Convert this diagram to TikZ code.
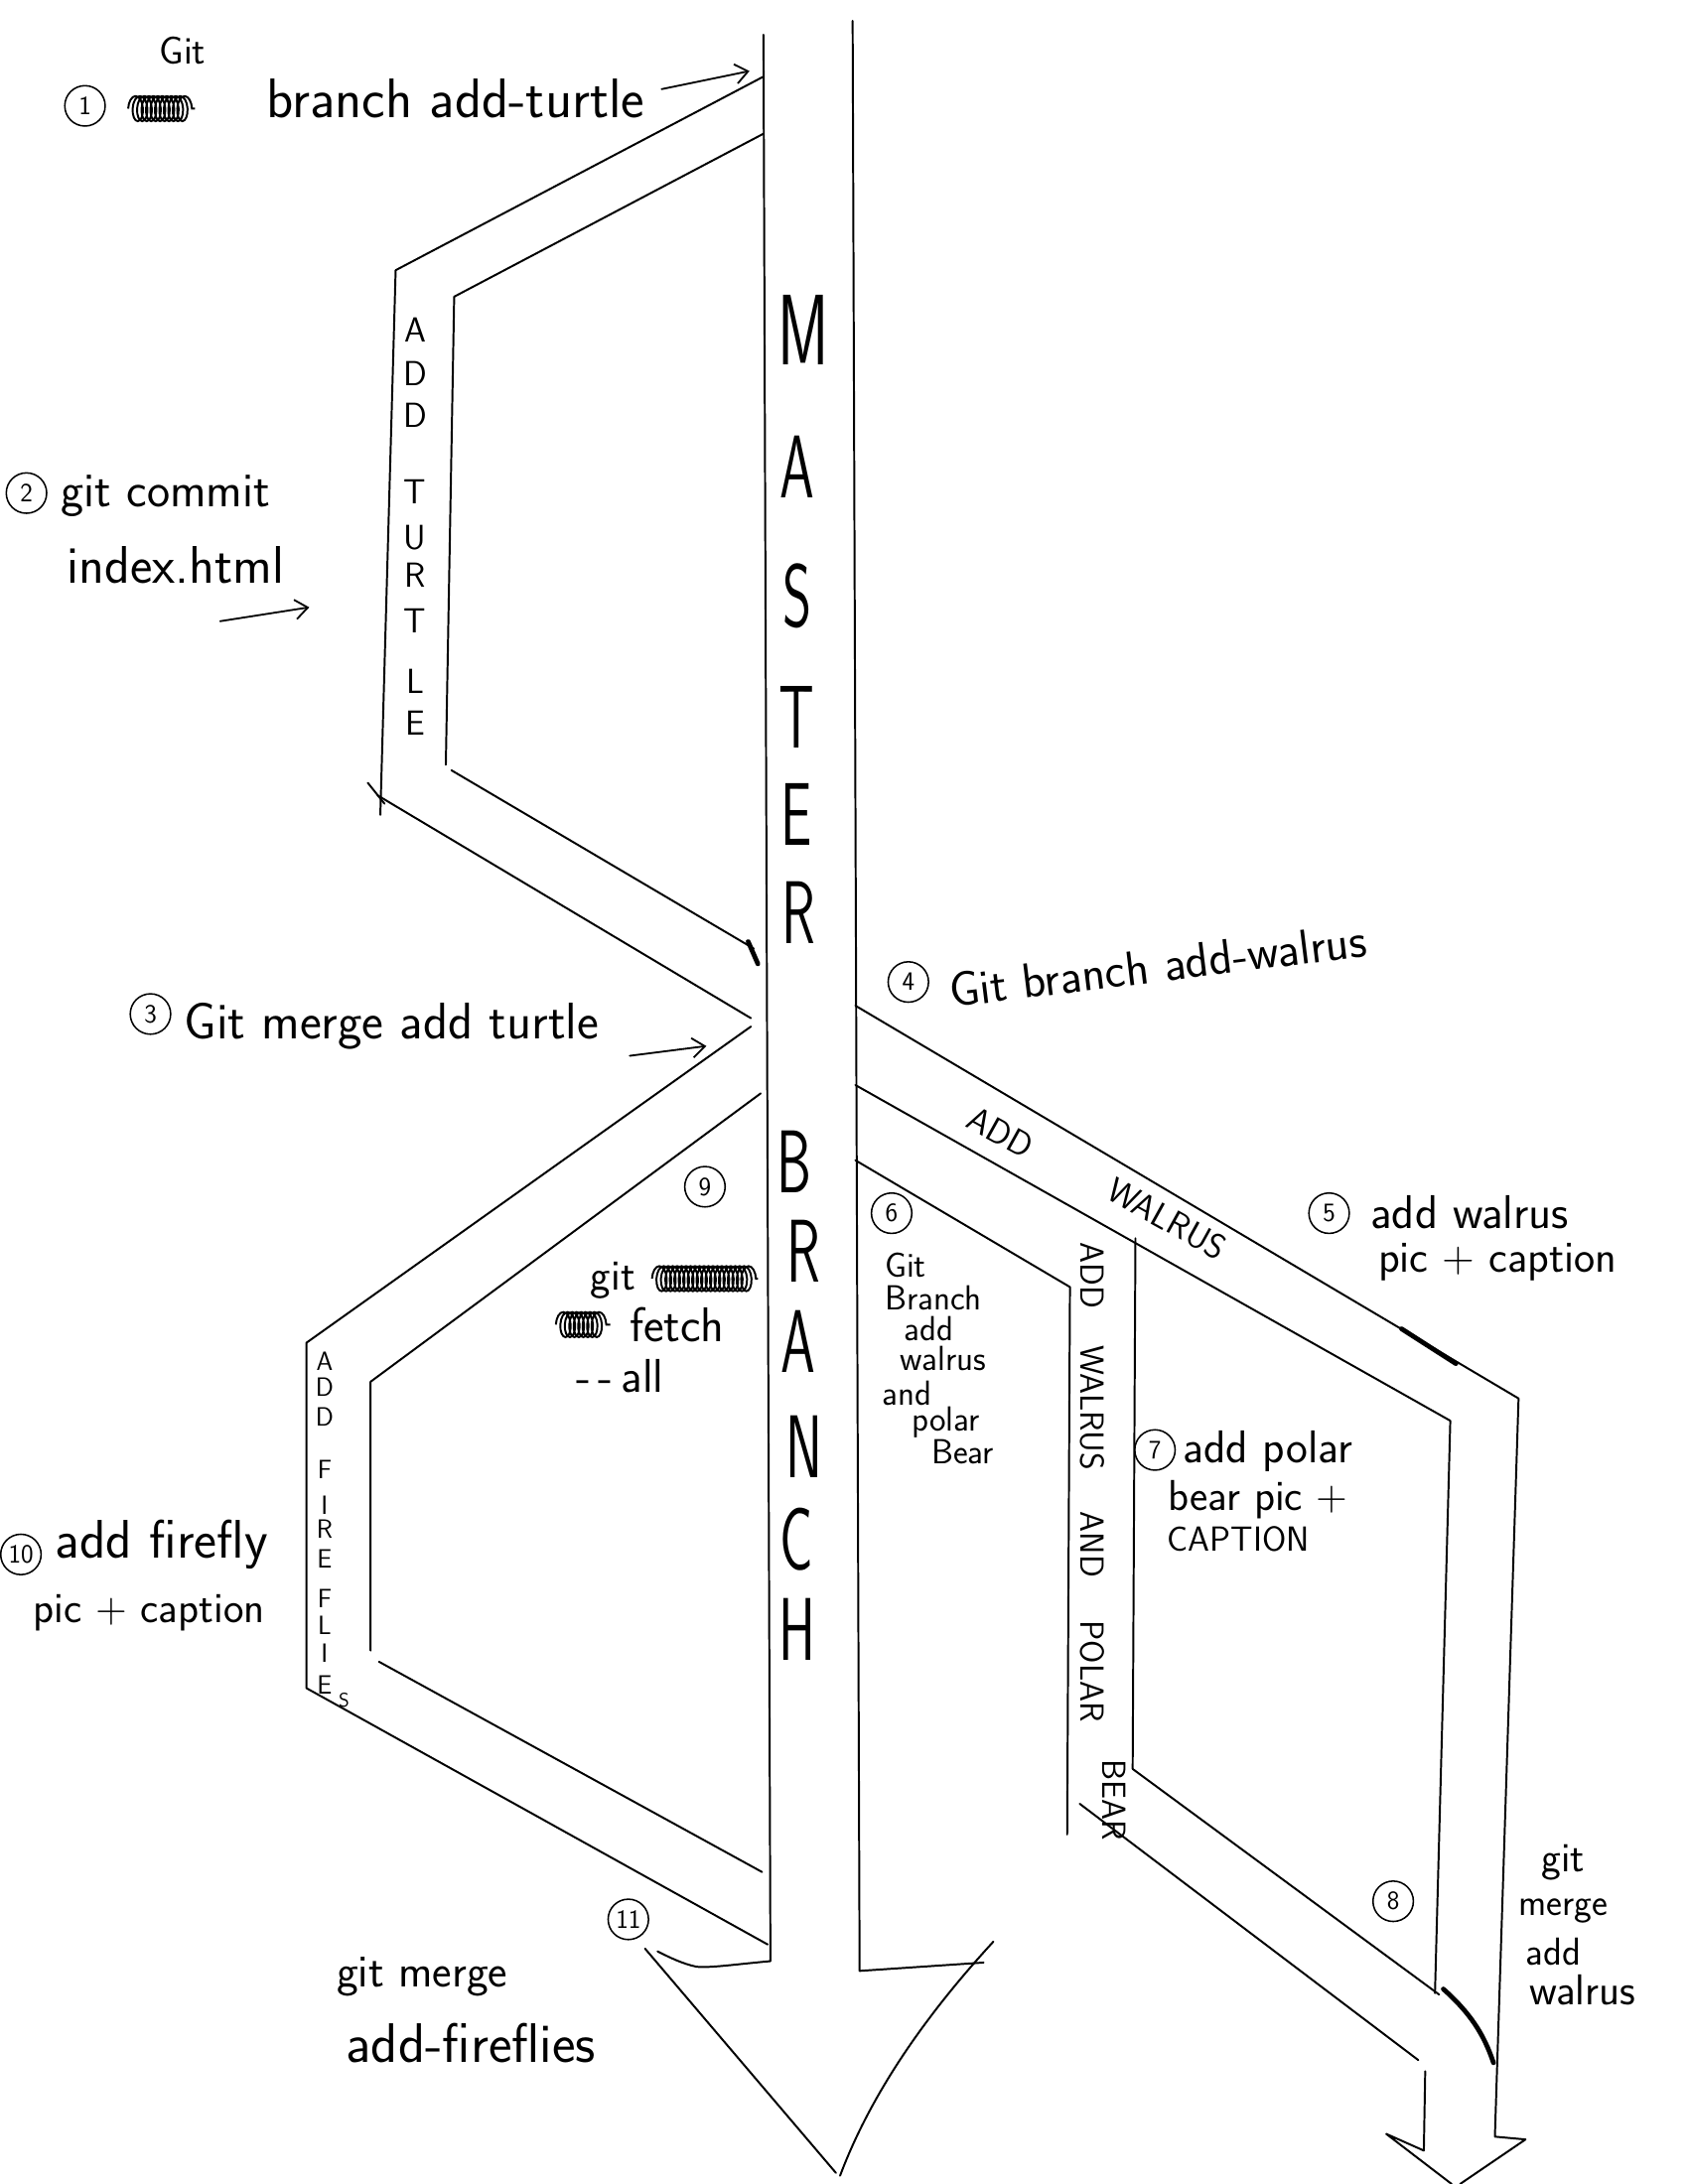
\documentclass[tikz,border=0pt]{standalone}
\usepackage{fontspec}
\usetikzlibrary{arrows.meta,decorations.pathmorphing}
\newcommand\narrowltr[1]{\scalebox{0.62}[1]{#1}}
\newcommand\fsz[1]{\sffamily\fontsize{#1}{#1}\selectfont}
\begin{document}
\begin{tikzpicture}[x=1pt,y=-1pt,
  br/.style={line width=1.4pt,line cap=round,line join=round},
  heavy/.style={line width=3.4pt,line cap=round},
  hw/.style={font=\fsz{36},inner sep=0pt},
  hws/.style={font=\fsz{26},inner sep=0pt},
  num/.style={circle,draw,line width=1.1pt,inner sep=0pt,minimum size=29pt,font=\fsz{19}},
  big/.style={font=\fsz{64},inner sep=0pt},
  capl/.style={font=\fsz{25},inner sep=0pt},
  caps/.style={font=\fsz{19},inner sep=0pt},
  arr/.style={line width=1.3pt,line cap=round,-{Straight Barb[length=9pt,width=14pt]}},
  scrib/.style={line width=1.4pt,decorate,decoration={coil,aspect=0.5,segment length=3.2pt,amplitude=9pt}}]

\fill[white] (0,0) rectangle (1212,1568);
\useasboundingbox (0,0) rectangle (1212,1568);

% ---------- master branch ----------
\draw[br] (548,25) -- (553,1408) .. controls (530,1410) and (510,1413) .. (500,1412)
          .. controls (490,1410) and (480,1405) .. (472,1401);
\draw[br] (463,1399) -- (600,1560);
\draw[br] (612,15) -- (617,1415) -- (706,1409);
\draw[br] (713,1394) .. controls (680,1430) and (630,1490) .. (603,1562);

% ---------- turtle branch ----------
\draw[br] (548,55) -- (284,194) -- (273,585);
\draw[br] (271,571) -- (539,731);
\draw[br] (548,96) -- (326,213) -- (320,549);
\draw[br] (324,553) -- (541,681);
\draw[heavy] (537,676) -- (544,692);
\draw[br] (264,562) -- (276,577);

% ---------- fireflies branch ----------
\draw[br] (539,737) -- (220,964) -- (220,1212) -- (551,1396);
\draw[br] (546,785) -- (266,992) -- (266,1185);
\draw[br] (272,1193) -- (547,1344);

% ---------- walrus branch ----------
\draw[br] (614,722) -- (1090,1004) -- (1073,1534) -- (1095,1536) -- (1048,1568);
\draw[heavy] (1006,954) -- (1045,979);
\draw[br] (614,779) -- (1041,1020) -- (1030,1431);
\draw[br] (614,833) -- (768,924) -- (766,1317);
\draw[br] (815,889) -- (813,1270) -- (1033,1432);
\draw[br] (775,1295) -- (1018,1479);
\draw[heavy] (1036,1428) .. controls (1055,1445) and (1065,1460) .. (1072,1481);
\draw[br] (1023,1487) -- (1022,1544) -- (995,1532) -- (1042,1568);

% ---------- MASTER / BRANCH ----------
\node[big,font=\fsz{72}] (mM) at (577,237) {\narrowltr{M}};
\node[big] (mA) at (572,335) {\narrowltr{A}};
\node[big] (mS) at (572,428) {\narrowltr{S}};
\node[big] (mT) at (572,515) {\narrowltr{T}};
\node[big] (mE) at (572,585) {\narrowltr{E}};
\node[big] (mR) at (573,655) {\narrowltr{R}};
\node[big] (bB) at (570,834) {\narrowltr{B}};
\node[big] (bR) at (577,898) {\narrowltr{R}};
\node[big] (bA) at (573,963) {\narrowltr{A}};
\node[big] (bN) at (577,1039) {\narrowltr{N}};
\node[big] (bC) at (572,1105) {\narrowltr{C}};
\node[big] (bH) at (572,1170) {\narrowltr{H}};

% ---------- band labels ----------
\foreach \ch/\yy [count=\i] in {A/237,D/268,D/298,T/353,U/386,R/413,T/446,L/489,E/519}
  \node[capl] (turt\i) at (298,\yy) {\ch};
\foreach \ch/\yy [count=\i] in {A/977,D/996,D/1017,F/1055,I/1081,R/1098,E/1119,F/1148,L/1167,I/1187,E/1210}
  \node[caps] (fire\i) at (233,\yy) {\ch};
\node[caps,font=\fsz{14}] (fireS) at (247,1221) {S};

\node[capl,rotate=-29] (wADD) at (718,813) {ADD};
\node[capl,rotate=-29] (wWAL) at (838,875) {WALRUS};

\node[hws,font=\fsz{24},rotate=-90] (pADD) at (784,916) {ADD};
\node[hws,font=\fsz{24},rotate=-90] (pWAL) at (784,1011) {WALRUS};
\node[hws,font=\fsz{24},rotate=-90] (pAND) at (784,1109) {AND};
\node[hws,font=\fsz{24},rotate=-90] (pPOL) at (784,1200) {POLAR};
\node[hws,font=\fsz{24},rotate=-90] (pBEAR) at (800,1292) {BEAR};

% ---------- step 1 ----------
\node[hws,font=\fsz{28}] (git1) at (131,36) {Git};
\node[num] (c1) at (61,76) {1};
\coordinate (s1a) at (92,78);
\coordinate (s1b) at (140,78);
\draw[scrib] (s1a) -- (s1b);
\node[hw,font=\fsz{40}] (t1) at (327,71) {branch add-turtle};
\coordinate (a1e) at (538,51);
\draw[arr] ([xshift=12pt,yshift=7pt]t1.east) -- (a1e);

% ---------- step 2 ----------
\node[num] (c2) at (19,354) {2};
\node[hw,font=\fsz{35}] (t2a) at (119,356) {git commit};
\node[hw,font=\fsz{38}] (t2b) at (126,406) {index.html};
\coordinate (a2s) at (158,446);
\coordinate (a2e) at (222,436);
\draw[arr] (a2s) -- (a2e);

% ---------- step 3 ----------
\node[num] (c3) at (108,728) {3};
\node[hw,font=\fsz{37}] (t3) at (281,737) {Git merge add turtle};
\coordinate (a3e) at (507,751);
\draw[arr] ([xshift=22pt,yshift=-21pt]t3.east) -- (a3e);

% ---------- step 4 ----------
\node[num] (c4) at (652,705) {4};
\node[hw,font=\fsz{35},rotate=7] (t4) at (831,693) {Git branch add-walrus};

% ---------- step 5 ----------
\node[num] (c5) at (954,871) {5};
\node[hw,font=\fsz{34}] (t5a) at (1055,870) {add walrus};
\node[hw,font=\fsz{32}] (t5b) at (1075,906) {pic + caption};

% ---------- step 6 ----------
\node[num] (c6) at (640,871) {6};
\node[hws,font=\fsz{25}] (t6a) at (650,908) {Git};
\node[hws,font=\fsz{25}] (t6b) at (670,932) {Branch};
\node[hws,font=\fsz{25}] (t6c) at (667,954) {add};
\node[hws,font=\fsz{25}] (t6d) at (677,975) {walrus};
\node[hws,font=\fsz{25}] (t6e) at (651,1000) {and};
\node[hws,font=\fsz{25}] (t6f) at (679,1021) {polar};
\node[hws,font=\fsz{25}] (t6g) at (691,1042) {Bear};

% ---------- step 7 ----------
\node[num] (c7) at (829,1041) {7};
\node[hws,font=\fsz{33}] (t7a) at (910,1042) {add polar};
\node[hws,font=\fsz{31}] (t7b) at (903,1077) {bear pic +};
\node[hws,font=\fsz{25}] (t7c) at (889,1105) {CAPTION};

% ---------- step 8 ----------
\node[num] (c8) at (1000,1365) {8};
\node[hws,font=\fsz{30}] (t8a) at (1122,1337) {git};
\node[hws,font=\fsz{27}] (t8b) at (1122,1372) {merge};
\node[hws,font=\fsz{28}] (t8c) at (1115,1401) {add};
\node[hws,font=\fsz{31}] (t8d) at (1136,1429) {walrus};

% ---------- step 9 ----------
\node[num] (c9) at (506,852) {9};
\node[hws,font=\fsz{31}] (t9a) at (440,919) {git};
\coordinate (s9a) at (468,918);
\coordinate (s9b) at (544,918);
\draw[scrib] (s9a) -- (s9b);
\coordinate (s9c) at (399,951);
\coordinate (s9d) at (438,951);
\draw[scrib] (s9c) -- (s9d);
\node[hws,font=\fsz{35}] (t9b) at (486,951) {fetch};
\node[hws,font=\fsz{34}] (t9c) at (445,988) {-{}\,-{}\,all};

% ---------- step 10 ----------
\node[num] (c10) at (15,1116) {10};
\node[hw,font=\fsz{39}] (t10a) at (116,1109) {add firefly};
\node[hw,font=\fsz{31}] (t10b) at (107,1158) {pic + caption};

% ---------- step 11 ----------
\node[num] (c11) at (451,1378) {11};
\node[hw,font=\fsz{33}] (t11a) at (303,1419) {git merge};
\node[hw,font=\fsz{40}] (t11b) at (338,1467) {add-fireflies};
\end{tikzpicture}
\end{document}
